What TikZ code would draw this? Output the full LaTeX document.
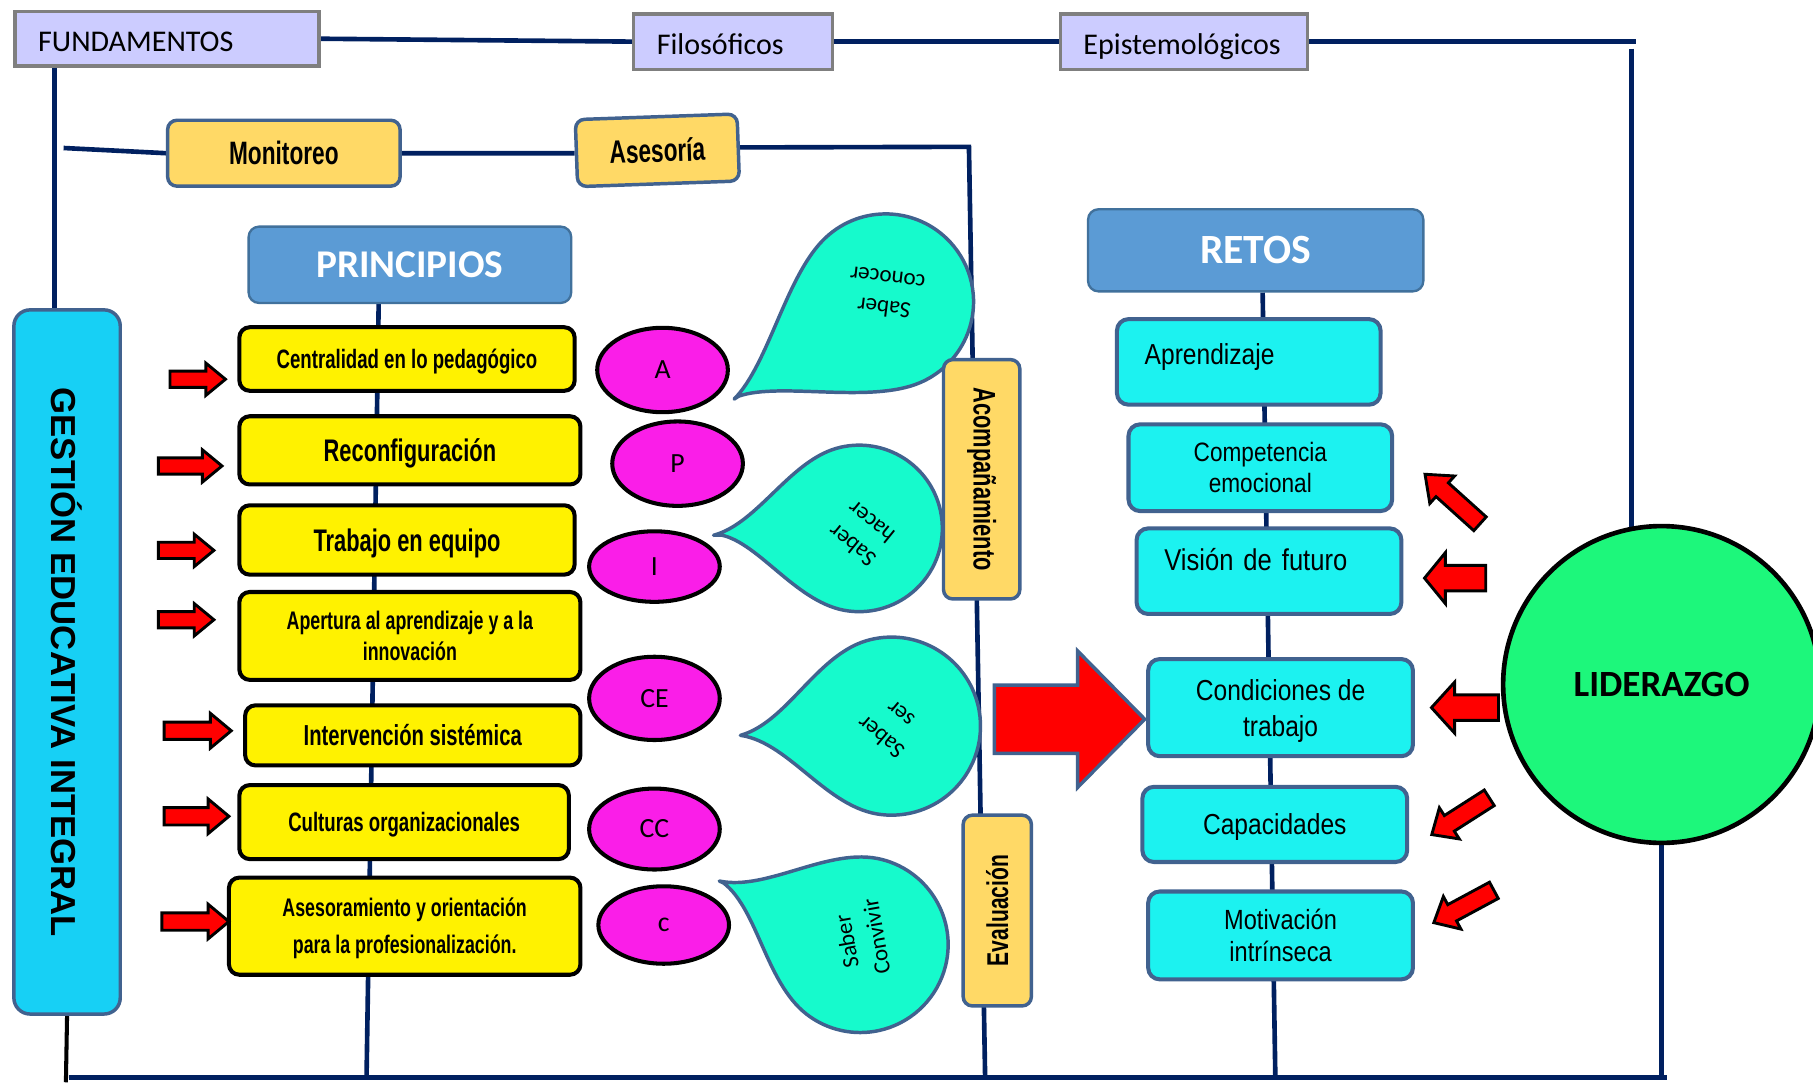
\documentclass[tikz,border=0pt]{standalone}
\usepackage{fontspec}
\setmainfont{Carlito}
\newfontfamily\agency[FakeStretch=0.7]{Liberation Sans}
\newfontfamily\narrowf[FakeStretch=0.85]{Liberation Sans}
\newfontfamily\arialf{Liberation Sans}
\usetikzlibrary{shapes.geometric,backgrounds,calc}
\newcommand\fsz[2]{\fontsize{#1pt}{#2pt}\selectfont}
\definecolor{navy}{HTML}{002060}
\definecolor{lav}{HTML}{CCCCFF}
\definecolor{gborder}{HTML}{7F7F7F}
\definecolor{gold}{HTML}{FFD966}
\definecolor{slate}{HTML}{41628F}
\definecolor{hdr}{HTML}{5B9BD5}
\definecolor{hdrb}{HTML}{41719C}
\definecolor{gcyan}{HTML}{17D0F5}
\definecolor{rcyan}{HTML}{1CF2F0}
\definecolor{mag}{HTML}{FA1EE8}
\definecolor{tdrop}{HTML}{16FACC}
\definecolor{lgreen}{HTML}{1DF77B}
% teardrop: cx cy r angle d
\newcommand\teardropshape[5]{%
  \begin{scope}[shift={(#1,#2)}, rotate=#4, scale=#3]
    \draw[tearst] (#5,0) .. controls ({#5-0.55},0.12) and (0.78,0.88) .. (80:1)
      arc[start angle=80, end angle=280, radius=1]
      .. controls (0.78,-0.88) and ({#5-0.55},-0.12) .. cycle;
  \end{scope}}
% block arrow: style x y angle length headwidth headlength
\newcommand\blockarrow[7]{%
  \begin{scope}[shift={(#2,#3)}, rotate=#4]
    \draw[#1] (0,{-#6/4}) -- ({#5-#7},{-#6/4}) -- ({#5-#7},{-#6/2}) -- (#5,0)
      -- ({#5-#7},{#6/2}) -- ({#5-#7},{#6/4}) -- (0,{#6/4}) -- cycle;
  \end{scope}}
\begin{document}
\begin{tikzpicture}[x=1pt,y=-1pt,
  navyline/.style={draw=navy, line width=4pt},
  fundbox/.style={draw=gborder, fill=lav, line width=3pt, minimum height=47pt, inner xsep=20pt, inner ysep=0pt, align=left, text height=22pt, text depth=0pt, font=\fsz{26}{30}},
  goldbox/.style={draw=slate, fill=gold, line width=3pt, rounded corners=8pt, inner sep=0pt, font=\agency\bfseries\fsz{28}{32}},
  hdrbox/.style={draw=hdrb, fill=hdr, line width=2pt, rounded corners=9pt, inner sep=0pt, text=white, font=\bfseries\fsz{34}{40}},
  ybox/.style={draw=black, fill=yellow, line width=3.5pt, rounded corners=9pt, inner sep=0pt, align=center, text depth=0pt},
  ysmall/.style={font=\agency\bfseries\fsz{23}{27}},
  ybig/.style={font=\agency\bfseries\fsz{27}{31}},
  magell/.style={ellipse, draw=black, fill=mag, line width=3.5pt, inner sep=0pt, minimum width=113pt, font=\fsz{24}{28}},
  cyanbox/.style={draw=slate, fill=rcyan, line width=3.5pt, rounded corners=10pt, inner sep=0pt, align=center, minimum width=229pt, text depth=0pt, font=\narrowf\fsz{25}{31}},
  tearst/.style={draw=slate, fill=tdrop, line width=3pt, line join=round},
  teartext/.style={align=center, font=\fsz{20}{26}, inner sep=0pt},
  sarrow/.style={draw=black, fill=red, line width=2.5pt, line join=miter},
  bigarrow/.style={draw=slate, fill=red, line width=3pt, line join=miter}]
\path[use as bounding box, clip] (0,0) rectangle (1568,936);
\begin{pgfonlayer}{background}
  \fill[white] (0,0) rectangle (1568,936);
\end{pgfonlayer}

% teardrops (under the boxes)
\teardropshape{766}{261}{76}{212.7}{2.05}
\teardropshape{743}{457}{72}{182.7}{1.75}
\teardropshape{771}{628}{77}{183.5}{1.7}
\teardropshape{744}{817}{76}{155.7}{1.76}
\node[teartext, rotate=173] (t1) at (766,254) {Saber\\conocer};
\node[teartext, rotate=141] (t2) at (745,462) {Saber\\hacer};
\node[teartext, rotate=140] (t3) at (770,628) {Saber\\ser};
\node[teartext, rotate=100] (t4) at (745,812) {Saber\\Convivir};

% top row
\node[fundbox, text width=223pt] (fund) at (144.5,33.5) {FUNDAMENTOS};
\node[fundbox, text width=132pt, minimum height=48pt] (filo) at (634,36) {Filosóficos};
\node[fundbox, text width=174pt, minimum height=48pt] (epis) at (1024,36) {Epistemológicos};

% second row
\node[goldbox, minimum width=201pt, minimum height=57pt] (mon) at (245.5,132.5) {Monitoreo};
\node[goldbox, minimum width=140pt, minimum height=58pt, rotate=2] (ases) at (568.5,130) {Asesoría};
\node[goldbox, minimum width=207pt, minimum height=66pt, rotate=-90, font=\agency\bfseries\fsz{27}{32}] (acomp) at (849,414.5) {Acompañamiento};
\node[goldbox, minimum width=165pt, minimum height=59pt, rotate=90, font=\agency\bfseries\fsz{26}{30}] (eval) at (862.5,787.5) {Evaluación};

% headers
\node[hdrbox, minimum width=279pt, minimum height=66pt] (princ) at (354.5,229) {PRINCIPIOS};
\node[hdrbox, minimum width=290pt, minimum height=71pt, font=\bfseries\fsz{36}{42}] (retos) at (1086,216.5) {RETOS};

% gestion
\node[draw=slate, fill=gcyan, line width=3pt, rounded corners=14pt, rotate=-90, minimum width=609pt, minimum height=92pt, inner sep=0pt, font=\arialf\bfseries\fsz{30}{36}] (gest) at (58,572.5) {GESTIÓN EDUCATIVA INTEGRAL};

% principles
\node[ybox, ysmall, minimum width=290pt, minimum height=55pt] (y1) at (352,310.5) {Centralidad en lo pedagógico};
\node[ybox, ybig, minimum width=295pt, minimum height=59pt] (y2) at (354.5,389.5) {Reconfiguración};
\node[ybox, ybig, minimum width=290pt, minimum height=60pt] (y3) at (352,467) {Trabajo en equipo};
\node[ybox, font=\agency\bfseries\fsz{22}{27}, minimum width=295pt, minimum height=76pt] (y4) at (354.5,550) {Apertura al aprendizaje y a la\\innovación};
\node[ybox, font=\agency\bfseries\fsz{25}{29}, minimum width=290pt, minimum height=52pt] (y5) at (357,636) {Intervención sistémica};
\node[ybox, ysmall, minimum width=285pt, minimum height=64pt] (y6) at (349.5,711) {Culturas organizacionales};
\node[ybox, font=\agency\bfseries\fsz{22}{32}, minimum width=304pt, minimum height=84pt] (y7) at (350,801) {Asesoramiento y orientación\\para la profesionalización.};

% ellipses
\node[magell, minimum height=73pt] (eA) at (573,320) {A};
\node[magell, minimum height=73pt] (eP) at (586,401) {P};
\node[magell, minimum height=61pt] (eI) at (566,490) {I};
\node[magell, minimum height=72pt] (eCE) at (566,604) {CE};
\node[magell, minimum height=70pt] (eCC) at (566,717) {CC};
\node[magell, minimum height=67pt] (ec) at (574,800) {c};

% retos boxes
\node[cyanbox, minimum width=228pt, minimum height=74pt, text width=180pt, align=left, text height=18pt, text depth=14pt] (c1) at (1080,313) {Aprendizaje};
\node[cyanbox, minimum width=228pt, minimum height=75pt, font=\narrowf\fsz{23}{27}] (c2) at (1090,404.5) {Competencia\\emocional};
\node[cyanbox, minimum height=74pt, text width=181pt, align=left, text height=19pt, text depth=20pt, font=\narrowf\fsz{26}{30}] (c3) at (1097.5,494) {Visión de futuro};
\node[cyanbox, minimum height=84pt] (c4) at (1107.5,612) {Condiciones de\\trabajo};
\node[cyanbox, minimum height=65pt] (c5) at (1102.5,713) {Capacidades};
\node[cyanbox, minimum height=76pt, font=\narrowf\fsz{24}{28}] (c6) at (1107.5,809) {Motivación\\intrínseca};

% liderazgo
\node[circle, draw=black, fill=lgreen, line width=4pt, minimum size=274pt, inner sep=0pt, font=\bfseries\fsz{32}{38}] (lid) at (1437,592) {LIDERAZGO};

% arrows left
\blockarrow{sarrow}{147}{328}{0}{48}{28}{17}
\blockarrow{sarrow}{137}{403}{0}{55}{28}{17}
\blockarrow{sarrow}{137}{476}{0}{48}{28}{17}
\blockarrow{sarrow}{137}{536}{0}{48}{28}{17}
\blockarrow{sarrow}{142}{632}{0}{58}{30}{18}
\blockarrow{sarrow}{142}{706}{0}{56}{30}{18}
\blockarrow{sarrow}{140}{797}{0}{58}{30}{18}
% arrows right
\blockarrow{sarrow}{1280}{453}{138}{64}{32}{20}
\blockarrow{sarrow}{1285}{500}{180}{53}{44}{18}
\blockarrow{sarrow}{1296}{612}{180}{58}{44}{20}
\blockarrow{sarrow}{1288}{690}{212.6}{59}{32}{18}
\blockarrow{sarrow}{1292}{770}{208.3}{59}{32}{18}
% big arrow
\blockarrow{bigarrow}{860}{622}{0}{130}{118}{58}

% connectors
\coordinate (tr) at (1411,36);
\coordinate (fl) at (47,57);
\coordinate (m0) at (55,128);
\coordinate (c840) at (838,127);
\coordinate (c840b) at (852,932);
\coordinate (pb) at (317,932);
\coordinate (rb) at (1103,932);
\coordinate (b0) at (60,932);
\coordinate (b1) at (1442,932);
\coordinate (bl) at (57,936);
\begin{pgfonlayer}{background}
  \draw[navyline] (fund.east) -- (filo.west);
  \draw[navyline] (filo.east) -- (epis.west);
  \draw[navyline] (epis.east) -- ([xshift=4pt]tr);
  \draw[navyline] ([yshift=-6pt]tr) -- (tr |- lid.center);
  \draw[navyline] (fl) -- (fl |- gest.west);
  \draw[navyline] (m0) -- (mon.west);
  \draw[navyline] (mon.east) -- (ases.west);
  \draw[navyline] (ases.east) -- (c840) -- (c840b);
  \draw[navyline] ([xshift=-27pt]princ.south) -- (pb);
  \draw[navyline] ([xshift=6pt]retos.south) -- (rb);
  \draw[navyline] (lid.center) -- (lid.center |- b1);
  \draw[navyline] (b0) -- (b1);
  \draw[black, line width=3.5pt] (gest.east) -- (bl);
\end{pgfonlayer}
\end{tikzpicture}
\end{document}
